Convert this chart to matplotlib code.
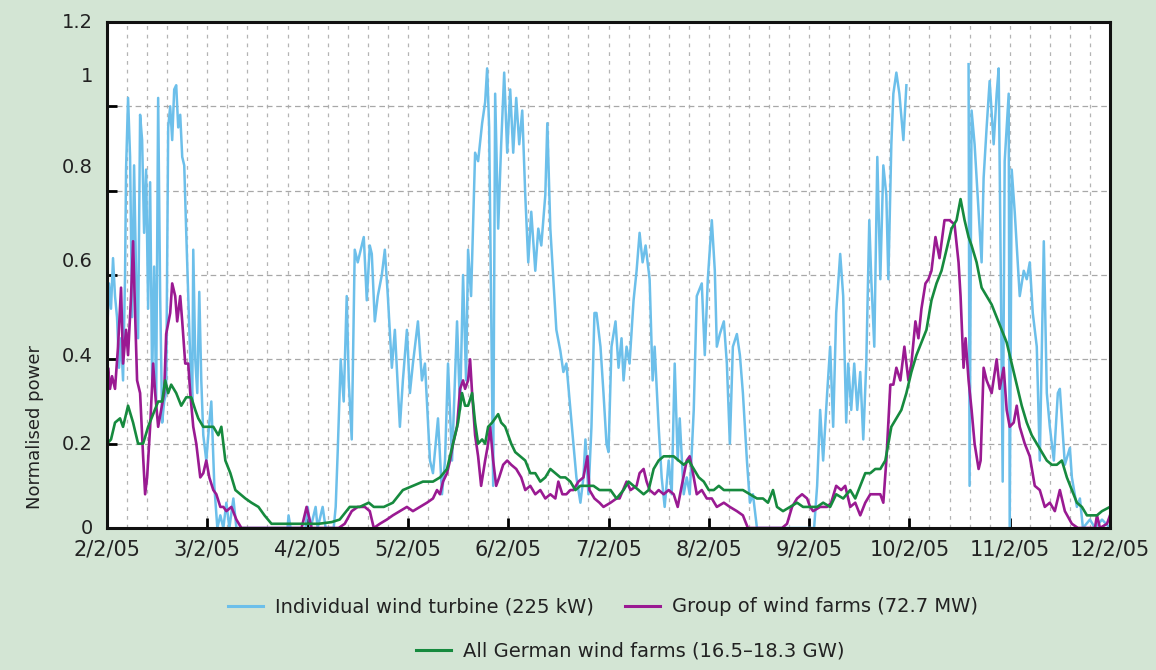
import numpy as np
import matplotlib
matplotlib.use("Agg")
import matplotlib.pyplot as plt
from matplotlib.ticker import MultipleLocator
from matplotlib.lines import Line2D

# ---------------- data (x in months after 2/2/05, y normalised power) ----------------
month_labels = ["2/2/05", "3/2/05", "4/2/05", "5/2/05", "6/2/05", "7/2/05",
                "8/2/05", "9/2/05", "10/2/05", "11/2/05", "12/2/05"]

y_tick_values = [0, 0.2, 0.4, 0.6, 0.8, 1.0, 1.2]
y_label_texts = ["0", "0.2", "0.4", "0.6", "0.8", "1", "1.2"]
y_label_pos = [0.0, 0.197, 0.406, 0.631, 0.854, 1.07, 1.2]

turbine_x = [0.00, 0.02, 0.04, 0.06, 0.08, 0.10, 0.12, 0.14, 0.16, 0.18, 0.19, 0.21, 0.23, 0.25,
             0.27, 0.29, 0.31, 0.33, 0.35, 0.37, 0.39, 0.41, 0.43, 0.45, 0.47, 0.49, 0.51, 0.53,
             0.55, 0.57, 0.59, 0.61, 0.63, 0.65, 0.67, 0.69, 0.71, 0.73, 0.75, 0.77, 0.79, 0.81,
             0.83, 0.85, 0.86, 0.88, 0.90, 0.92, 0.94, 0.96, 0.99, 1.02, 1.04, 1.07, 1.10, 1.13,
             1.16, 1.19, 1.22, 1.26, 1.29, 1.80, 1.81, 1.83, 1.98, 2.00, 2.03, 2.08, 2.10, 2.15,
             2.18, 2.26, 2.28, 2.30, 2.33, 2.36, 2.39, 2.41, 2.44, 2.47, 2.50, 2.53, 2.56, 2.59,
             2.62, 2.64, 2.67, 2.70, 2.74, 2.77, 2.80, 2.84, 2.87, 2.92, 2.95, 2.99, 3.02, 3.05,
             3.10, 3.14, 3.17, 3.22, 3.25, 3.30, 3.34, 3.37, 3.40, 3.44, 3.49, 3.52, 3.55, 3.58,
             3.60, 3.63, 3.67, 3.70, 3.74, 3.77, 3.79, 3.81, 3.85, 3.87, 3.90, 3.93, 3.96, 3.99,
             4.02, 4.05, 4.08, 4.11, 4.14, 4.17, 4.20, 4.23, 4.27, 4.30, 4.33, 4.37, 4.39, 4.42,
             4.45, 4.48, 4.52, 4.55, 4.58, 4.62, 4.65, 4.68, 4.72, 4.75, 4.77, 4.80, 4.83, 4.86,
             4.88, 4.92, 4.95, 4.98, 5.00, 5.03, 5.07, 5.10, 5.13, 5.15, 5.18, 5.21, 5.25, 5.28,
             5.31, 5.34, 5.37, 5.41, 5.44, 5.46, 5.50, 5.53, 5.56, 5.60, 5.63, 5.66, 5.69, 5.71,
             5.75, 5.78, 5.81, 5.85, 5.88, 5.93, 5.96, 5.99, 6.03, 6.06, 6.08, 6.11, 6.15, 6.18,
             6.21, 6.24, 6.28, 6.31, 6.34, 6.38, 6.41, 6.44, 6.48, 7.05, 7.08, 7.11, 7.14, 7.18,
             7.21, 7.24, 7.27, 7.31, 7.34, 7.37, 7.39, 7.42, 7.45, 7.48, 7.51, 7.54, 7.57, 7.60,
             7.62, 7.65, 7.68, 7.71, 7.74, 7.77, 7.79, 7.82, 7.84, 7.87, 7.90, 7.94, 7.97, 7.98,
             8.59, 8.60, 8.62, 8.65, 8.68, 8.72, 8.74, 8.77, 8.80, 8.84, 8.87, 8.89, 8.91, 8.93,
             8.95, 8.99, 9.00, 9.02, 9.05, 9.08, 9.10, 9.14, 9.17, 9.20, 9.23, 9.27, 9.30, 9.34,
             9.37, 9.40, 9.44, 9.48, 9.50, 9.55, 9.60, 9.62, 9.67, 9.70, 9.73, 9.80, 9.85, 9.92,
             10.00]
turbine_y = [0.45, 0.58, 0.52, 0.64, 0.55, 0.50, 0.38, 0.45, 0.35, 0.60, 0.85, 1.02, 0.88, 0.50,
             0.86, 0.60, 0.45, 0.98, 0.92, 0.70, 0.85, 0.52, 0.82, 0.35, 0.62, 0.30, 1.02, 0.55,
             0.25, 0.30, 0.32, 0.95, 1.00, 0.92, 1.04, 1.05, 0.95, 0.98, 0.88, 0.86, 0.70, 0.55,
             0.40, 0.30, 0.66, 0.40, 0.32, 0.56, 0.35, 0.22, 0.16, 0.25, 0.30, 0.10, 0.00, 0.03,
             0.00, 0.06, 0.00, 0.07, 0.00, 0.00, 0.03, 0.00, 0.00, 0.05, 0.00, 0.05, 0.00, 0.05,
             0.00, 0.00, 0.05, 0.18, 0.40, 0.30, 0.55, 0.35, 0.21, 0.66, 0.63, 0.66, 0.69, 0.54,
             0.67, 0.65, 0.49, 0.55, 0.60, 0.66, 0.55, 0.38, 0.47, 0.24, 0.35, 0.47, 0.32, 0.39,
             0.49, 0.35, 0.39, 0.16, 0.13, 0.26, 0.08, 0.16, 0.39, 0.16, 0.49, 0.28, 0.60, 0.35,
             0.66, 0.55, 0.89, 0.87, 0.96, 1.01, 1.09, 0.95, 0.10, 1.03, 0.71, 0.91, 1.08, 0.89,
             1.04, 0.89, 1.02, 0.91, 0.99, 0.79, 0.63, 0.75, 0.61, 0.71, 0.67, 0.79, 0.96, 0.71,
             0.59, 0.47, 0.42, 0.37, 0.39, 0.28, 0.20, 0.12, 0.06, 0.12, 0.21, 0.08, 0.24, 0.51,
             0.51, 0.43, 0.32, 0.20, 0.18, 0.43, 0.49, 0.38, 0.45, 0.35, 0.43, 0.39, 0.54, 0.61,
             0.70, 0.63, 0.67, 0.59, 0.35, 0.43, 0.24, 0.12, 0.05, 0.16, 0.08, 0.39, 0.16, 0.26,
             0.08, 0.12, 0.08, 0.28, 0.55, 0.58, 0.41, 0.59, 0.73, 0.61, 0.43, 0.46, 0.49, 0.39,
             0.20, 0.43, 0.46, 0.41, 0.32, 0.16, 0.06, 0.08, 0.00, 0.00, 0.10, 0.28, 0.16, 0.32,
             0.43, 0.24, 0.51, 0.65, 0.55, 0.25, 0.39, 0.28, 0.39, 0.28, 0.37, 0.21, 0.39, 0.73,
             0.59, 0.43, 0.88, 0.59, 0.86, 0.79, 0.59, 0.91, 1.03, 1.08, 1.03, 0.92, 1.05, np.nan,
             1.10, 0.10, 0.99, 0.91, 0.79, 0.63, 0.83, 0.95, 1.06, 0.91, 1.03, 1.09, 0.63, 0.11,
             0.87, 1.03, 0.00, 0.85, 0.75, 0.63, 0.55, 0.61, 0.59, 0.63, 0.51, 0.43, 0.16, 0.68,
             0.32, 0.24, 0.16, 0.32, 0.33, 0.15, 0.19, 0.12, 0.05, 0.07, 0.00, 0.02, 0.00, 0.02,
             0.00]

group_x = [0.00, 0.01, 0.03, 0.05, 0.08, 0.11, 0.14, 0.16, 0.19, 0.21, 0.24, 0.26, 0.28, 0.30,
           0.33, 0.36, 0.38, 0.40, 0.43, 0.46, 0.48, 0.51, 0.54, 0.57, 0.59, 0.63, 0.65, 0.68,
           0.70, 0.73, 0.75, 0.78, 0.81, 0.83, 0.86, 0.89, 0.93, 0.96, 0.99, 1.02, 1.06, 1.09,
           1.13, 1.16, 1.19, 1.24, 1.29, 1.34, 1.94, 1.99, 2.04, 2.31, 2.37, 2.44, 2.50, 2.57,
           2.62, 2.66, 2.72, 2.79, 2.85, 2.92, 2.99, 3.05, 3.12, 3.19, 3.25, 3.29, 3.32, 3.35,
           3.39, 3.42, 3.45, 3.49, 3.52, 3.55, 3.57, 3.60, 3.62, 3.64, 3.67, 3.70, 3.73, 3.77,
           3.80, 3.82, 3.85, 3.88, 3.91, 3.95, 3.99, 4.03, 4.08, 4.13, 4.17, 4.22, 4.27, 4.32,
           4.37, 4.42, 4.47, 4.50, 4.54, 4.58, 4.62, 4.65, 4.70, 4.75, 4.79, 4.81, 4.86, 4.91,
           4.95, 5.02, 5.08, 5.11, 5.18, 5.22, 5.28, 5.31, 5.35, 5.38, 5.41, 5.46, 5.50, 5.55,
           5.60, 5.65, 5.69, 5.73, 5.78, 5.81, 5.85, 5.88, 5.93, 5.98, 6.03, 6.08, 6.15, 6.21,
           6.28, 6.34, 6.39, 6.73, 6.78, 6.83, 6.88, 6.93, 6.98, 7.01, 7.04, 7.11, 7.18, 7.22,
           7.27, 7.32, 7.36, 7.41, 7.46, 7.51, 7.56, 7.61, 7.66, 7.71, 7.74, 7.77, 7.81, 7.84,
           7.87, 7.91, 7.95, 7.99, 8.02, 8.06, 8.09, 8.12, 8.16, 8.19, 8.22, 8.26, 8.30, 8.35,
           8.40, 8.45, 8.49, 8.51, 8.54, 8.56, 8.59, 8.62, 8.65, 8.69, 8.71, 8.74, 8.77, 8.82,
           8.87, 8.90, 8.94, 8.97, 9.00, 9.04, 9.07, 9.10, 9.15, 9.20, 9.25, 9.30, 9.35, 9.40,
           9.45, 9.50, 9.55, 9.62, 9.68, 9.85, 9.87, 9.90, 9.97, 10.00]
group_y = [0.25, 0.38, 0.33, 0.36, 0.33, 0.43, 0.57, 0.39, 0.47, 0.41, 0.55, 0.68, 0.51, 0.35,
           0.32, 0.17, 0.08, 0.12, 0.24, 0.39, 0.32, 0.24, 0.28, 0.32, 0.46, 0.51, 0.58, 0.55,
           0.49, 0.55, 0.49, 0.39, 0.39, 0.32, 0.24, 0.20, 0.12, 0.13, 0.16, 0.12, 0.09, 0.08,
           0.05, 0.05, 0.04, 0.05, 0.02, 0.00, 0.00, 0.05, 0.00, 0.00, 0.01, 0.04, 0.05, 0.05,
           0.04, 0.00, 0.01, 0.02, 0.03, 0.04, 0.05, 0.04, 0.05, 0.06, 0.07, 0.09, 0.08, 0.11,
           0.13, 0.16, 0.20, 0.24, 0.33, 0.35, 0.33, 0.35, 0.40, 0.32, 0.22, 0.17, 0.10, 0.16,
           0.20, 0.24, 0.16, 0.10, 0.12, 0.15, 0.16, 0.15, 0.14, 0.12, 0.09, 0.10, 0.08, 0.09,
           0.07, 0.08, 0.07, 0.11, 0.08, 0.08, 0.09, 0.09, 0.11, 0.12, 0.17, 0.09, 0.07, 0.06,
           0.05, 0.06, 0.07, 0.07, 0.11, 0.09, 0.10, 0.13, 0.14, 0.11, 0.09, 0.08, 0.09, 0.08,
           0.09, 0.08, 0.05, 0.10, 0.16, 0.17, 0.12, 0.08, 0.09, 0.07, 0.07, 0.05, 0.06, 0.05,
           0.04, 0.03, 0.00, 0.00, 0.01, 0.05, 0.07, 0.08, 0.07, 0.05, 0.04, 0.05, 0.05, 0.06,
           0.10, 0.09, 0.10, 0.05, 0.06, 0.03, 0.06, 0.08, 0.08, 0.08, 0.06, 0.16, 0.34, 0.34,
           0.38, 0.35, 0.43, 0.35, 0.39, 0.49, 0.45, 0.52, 0.58, 0.59, 0.61, 0.69, 0.64, 0.73,
           0.73, 0.72, 0.63, 0.55, 0.38, 0.45, 0.35, 0.28, 0.20, 0.14, 0.16, 0.38, 0.35, 0.32,
           0.40, 0.33, 0.38, 0.28, 0.24, 0.25, 0.29, 0.24, 0.20, 0.17, 0.10, 0.09, 0.05, 0.06,
           0.04, 0.09, 0.04, 0.01, 0.00, 0.00, 0.03, 0.00, 0.01, 0.03]

germany_x = [0.00, 0.04, 0.08, 0.13, 0.16, 0.21, 0.26, 0.31, 0.36, 0.41, 0.46, 0.51, 0.55, 0.58,
             0.61, 0.64, 0.69, 0.74, 0.79, 0.84, 0.88, 0.91, 0.96, 1.01, 1.06, 1.11, 1.14, 1.18,
             1.23, 1.28, 1.33, 1.38, 1.44, 1.51, 1.57, 1.64, 1.71, 1.84, 1.97, 2.11, 2.24, 2.32,
             2.42, 2.52, 2.61, 2.66, 2.76, 2.85, 2.95, 3.05, 3.15, 3.25, 3.32, 3.39, 3.45, 3.50,
             3.54, 3.57, 3.60, 3.64, 3.67, 3.70, 3.74, 3.77, 3.80, 3.84, 3.87, 3.90, 3.93, 3.97,
             4.00, 4.03, 4.07, 4.12, 4.17, 4.22, 4.27, 4.32, 4.37, 4.42, 4.47, 4.52, 4.57, 4.62,
             4.67, 4.72, 4.78, 4.85, 4.91, 4.95, 5.02, 5.08, 5.15, 5.20, 5.25, 5.30, 5.35, 5.40,
             5.45, 5.50, 5.55, 5.60, 5.65, 5.70, 5.75, 5.80, 5.85, 5.90, 5.95, 6.00, 6.05, 6.10,
             6.15, 6.21, 6.28, 6.34, 6.41, 6.48, 6.54, 6.59, 6.64, 6.68, 6.74, 6.81, 6.88, 6.94,
             7.01, 7.08, 7.14, 7.21, 7.27, 7.34, 7.41, 7.46, 7.51, 7.56, 7.61, 7.66, 7.71, 7.76,
             7.79, 7.82, 7.87, 7.92, 7.97, 8.02, 8.07, 8.12, 8.17, 8.22, 8.27, 8.32, 8.37, 8.42,
             8.47, 8.51, 8.55, 8.59, 8.62, 8.67, 8.72, 8.77, 8.82, 8.87, 8.92, 8.97, 9.02, 9.07,
             9.12, 9.17, 9.22, 9.27, 9.32, 9.37, 9.42, 9.47, 9.52, 9.57, 9.62, 9.67, 9.72, 9.77,
             9.82, 9.87, 9.92, 10.00]
germany_y = [0.20, 0.21, 0.25, 0.26, 0.24, 0.29, 0.25, 0.20, 0.20, 0.24, 0.27, 0.30, 0.30, 0.35,
             0.32, 0.34, 0.32, 0.29, 0.31, 0.31, 0.28, 0.26, 0.24, 0.24, 0.24, 0.22, 0.24, 0.16,
             0.13, 0.09, 0.08, 0.07, 0.06, 0.05, 0.03, 0.01, 0.01, 0.01, 0.01, 0.01, 0.014, 0.02,
             0.05, 0.05, 0.06, 0.05, 0.05, 0.06, 0.09, 0.10, 0.11, 0.11, 0.12, 0.14, 0.20, 0.25,
             0.32, 0.29, 0.29, 0.32, 0.25, 0.20, 0.21, 0.20, 0.24, 0.25, 0.26, 0.27, 0.25, 0.24,
             0.22, 0.20, 0.18, 0.17, 0.16, 0.13, 0.13, 0.11, 0.12, 0.14, 0.13, 0.12, 0.12, 0.11,
             0.09, 0.10, 0.10, 0.10, 0.09, 0.09, 0.09, 0.07, 0.09, 0.11, 0.10, 0.09, 0.08, 0.09,
             0.14, 0.16, 0.17, 0.17, 0.17, 0.16, 0.15, 0.16, 0.14, 0.12, 0.11, 0.09, 0.09, 0.10,
             0.09, 0.09, 0.09, 0.09, 0.08, 0.07, 0.07, 0.06, 0.09, 0.05, 0.04, 0.05, 0.06, 0.05,
             0.05, 0.05, 0.06, 0.05, 0.08, 0.07, 0.09, 0.07, 0.10, 0.13, 0.13, 0.14, 0.14, 0.16,
             0.20, 0.24, 0.26, 0.28, 0.32, 0.37, 0.41, 0.44, 0.47, 0.54, 0.58, 0.61, 0.66, 0.71,
             0.73, 0.78, 0.73, 0.69, 0.67, 0.63, 0.57, 0.55, 0.53, 0.50, 0.47, 0.44, 0.39, 0.34,
             0.29, 0.25, 0.22, 0.20, 0.18, 0.16, 0.15, 0.15, 0.16, 0.12, 0.09, 0.06, 0.05, 0.03,
             0.03, 0.03, 0.04, 0.05]

series_labels = ["Individual wind turbine (225 kW)", "Group of wind farms (72.7 MW)",
                 "All German wind farms (16.5\u201318.3 GW)"]

# ---------------- styling ----------------
BG = "#d3e5d4"
C_BLUE = "#6cbfea"
C_PURPLE = "#9a1a92"
C_GREEN = "#168a3e"
plt.rcParams["font.family"] = ["DejaVu Sans"]

fig = plt.figure(figsize=(11.56, 6.70), dpi=100, facecolor=BG)
ax = fig.add_axes([107 / 1156, 142 / 670, 1003 / 1156, 506 / 670])
ax.set_facecolor("white")

ax.plot(turbine_x, turbine_y, color=C_BLUE, lw=1.8, zorder=3, solid_joinstyle="round")
ax.plot(group_x, group_y, color=C_PURPLE, lw=1.9, zorder=4, solid_joinstyle="round")
ax.plot(germany_x, germany_y, color=C_GREEN, lw=1.9, zorder=5, solid_joinstyle="round")

ax.set_xlim(0, 10)
ax.set_ylim(0, 1.2)

# x axis
ax.set_xticks(range(len(month_labels)))
ax.set_xticklabels(month_labels, fontsize=15, color="#222222")
ax.xaxis.set_minor_locator(MultipleLocator(0.2))
ax.tick_params(axis="x", which="major", direction="in", length=7, width=2, pad=8,
               top=False, color="black")
ax.tick_params(axis="x", which="minor", length=0, top=False)

# y axis: tick marks at grid values, labels placed as in the reference
ax.set_yticks(y_tick_values)
ax.set_yticklabels([""] * len(y_tick_values))
ax.tick_params(axis="y", which="major", direction="in", length=7, width=2, right=False,
               color="black")
for pos, txt in zip(y_label_pos, y_label_texts):
    ax.text(-0.014, pos, txt, transform=ax.get_yaxis_transform(), ha="right", va="center",
            fontsize=14, color="#222222")

ax.grid(axis="x", which="both", color="#b4b4b4", linestyle=(0, (3, 4)), lw=0.9, zorder=1)
ax.grid(axis="y", which="major", color="#a8a8a8", linestyle=(0, (4.5, 3)), lw=0.9, zorder=1)
ax.set_axisbelow(True)

for sp in ax.spines.values():
    sp.set_linewidth(2.2)
    sp.set_color("#111111")
    sp.set_zorder(6)

fig.text(35 / 1156, 1 - 427 / 670, "Normalised power", rotation=90, ha="center",
         va="center", fontsize=13, color="#222222")

# legend
h_blue = Line2D([], [], color=C_BLUE, lw=2.2)
h_purple = Line2D([], [], color=C_PURPLE, lw=2.2)
h_green = Line2D([], [], color=C_GREEN, lw=2.2)
leg_kw = dict(frameon=False, fontsize=14, handlelength=1.8, handletextpad=0.6,
              labelcolor="#222222", borderaxespad=0, borderpad=0)
fig.legend([h_blue, h_purple], series_labels[:2], loc="center", ncol=2,
           bbox_to_anchor=(603 / 1156, 1 - 607 / 670), columnspacing=1.6, **leg_kw)
fig.legend([h_green], series_labels[2:], loc="center", ncol=1,
           bbox_to_anchor=(630 / 1156, 1 - 651 / 670), **leg_kw)

fig.savefig("out.png", dpi=100, facecolor=BG)
